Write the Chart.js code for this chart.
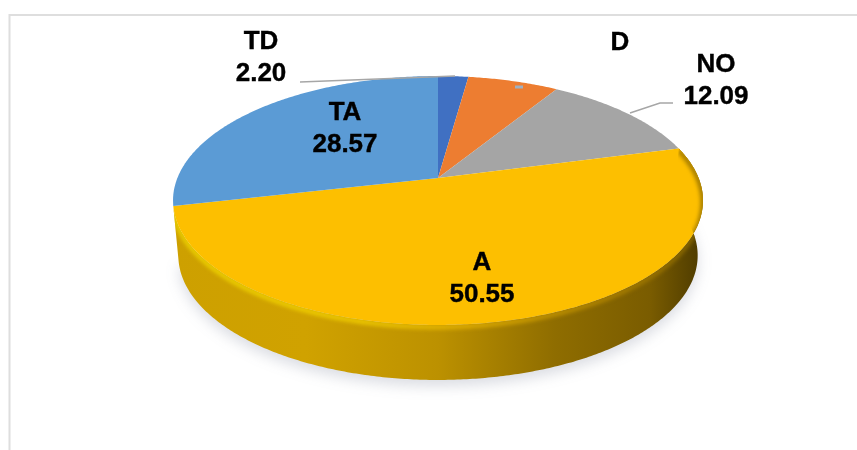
<!DOCTYPE html>
<html><head><meta charset="utf-8">
<style>html,body{margin:0;padding:0;background:#fff}canvas{display:block}</style>
<script src="https://cdn.jsdelivr.net/npm/chart.js@4"></script></head>
<body><canvas id="c" width="857" height="450"></canvas>
<script>
const categories = ['TD','D','NO','A','TA'];
const values = [2.20, 6.59, 12.09, 50.55, 28.57];
const valueLabels = ['2.20', '', '12.09', '50.55', '28.57'];
const colors = ['#4070C2','#ED7D31','#A5A5A5','#FDBF00','#5B9BD5'];

// 3D look of the pie
const view = {cx:438, cy:178, ax:260.6, by:120.4, p:0.1807, depth:55, baseScale:0.98};
const labelSpots = [[261,42],[620,43],[716,65],[482,263],[345,113]];
const lineGap = 31.5;
const leaders = [
  [[300,82],[455,76]],
  [[630,113],[660,103],[673,103]]
];

function project(a, k, dy, sx){
  const u = Math.cos(a)*(k===undefined?1:k), v = Math.sin(a)*(k===undefined?1:k);
  const d = 1 - view.p*v;
  return [view.cx + (sx||1)*view.ax*u/d, view.cy + view.by*v/d + (dy||0)];
}
function arcPath(ctx, s, e, dy, sx, k, move){
  const n = Math.max(2, Math.ceil(Math.abs(e-s)/0.01));
  for(let i=0;i<=n;i++){
    const p = project(s+(e-s)*i/n, k, dy, sx);
    if(i===0 && move) ctx.moveTo(p[0],p[1]); else ctx.lineTo(p[0],p[1]);
  }
}
const pie3d = {
  id:'pie3d',
  beforeDatasetDraw(chart){
    const ctx = chart.ctx, arcs = chart.getDatasetMeta(0).data;
    const front = arcs[3];
    const S = front.startAngle, E = front.endAngle;
    // soft shadow under the disc
    ctx.save();
    ctx.filter='blur(7px)';
    ctx.fillStyle='rgba(70,80,110,0.2)';
    ctx.beginPath();
    arcPath(ctx,S,E,view.depth+6,view.baseScale,1,true);
    ctx.closePath();ctx.fill();
    ctx.restore();
    // rim
    const g = ctx.createLinearGradient(173,0,703,0);
    g.addColorStop(0,'#CDA000');g.addColorStop(0.25,'#D0A200');g.addColorStop(0.5,'#BC9100');
    g.addColorStop(0.72,'#8F6D00');g.addColorStop(0.9,'#7A5C00');g.addColorStop(1,'#4C3A00');
    ctx.save();
    ctx.fillStyle=g;
    ctx.beginPath();
    arcPath(ctx,S,E,0,1,1,true);
    arcPath(ctx,E,S,view.depth,view.baseScale,1,false);
    ctx.closePath();ctx.fill();
    ctx.restore();
    // top surface
    ctx.save();
    ctx.filter='blur(0.6px)';
    arcs.forEach((el,i)=>{
      ctx.fillStyle=colors[i];
      ctx.beginPath();
      ctx.moveTo(view.cx,view.cy);
      arcPath(ctx,el.startAngle,el.endAngle,0,1,1,false);
      ctx.closePath();ctx.fill();
    });
    ctx.restore();
    // bevel on the front edge, kept inside the disc
    ctx.save();
    ctx.beginPath();
    arcPath(ctx,S,E,0,1,1,true);
    arcPath(ctx,E,S,view.depth,view.baseScale,1,false);
    ctx.closePath();ctx.clip();
    ctx.filter='blur(2px)';
    const b = ctx.createLinearGradient(173,0,703,0);
    b.addColorStop(0,'#F0D800');b.addColorStop(0.35,'#F5D200');b.addColorStop(0.55,'#E8B400');
    b.addColorStop(0.8,'#B88A00');b.addColorStop(1,'#8A6800');
    ctx.strokeStyle=b;ctx.lineWidth=4;
    ctx.beginPath();
    arcPath(ctx,S,E,2,1,1,true);
    ctx.stroke();
    ctx.restore();
    return false;
  },
  afterDatasetsDraw(chart){
    const ctx = chart.ctx;
    ctx.save();
    ctx.strokeStyle='#A6A6A6';ctx.lineWidth=1.5;
    leaders.forEach(l=>{
      ctx.beginPath();
      l.forEach((p,i)=> i? ctx.lineTo(p[0],p[1]) : ctx.moveTo(p[0],p[1]));
      ctx.stroke();
    });
    ctx.strokeStyle='#9FB0C0';ctx.lineWidth=3;
    ctx.beginPath();ctx.moveTo(515,87);ctx.lineTo(523,87);ctx.stroke();
    ctx.fillStyle='#000';ctx.strokeStyle='#000';ctx.lineWidth=0.4;
    ctx.font='bold 26px "Liberation Sans"';
    ctx.textAlign='center';ctx.textBaseline='middle';
    categories.forEach((c,i)=>{
      const q = labelSpots[i];
      ctx.fillText(c,q[0],q[1]);ctx.strokeText(c,q[0],q[1]);
      if(valueLabels[i]){
        ctx.fillText(valueLabels[i],q[0],q[1]+lineGap);
        ctx.strokeText(valueLabels[i],q[0],q[1]+lineGap);
      }
    });
    ctx.restore();
  },
  beforeDraw(chart){
    const ctx = chart.ctx;
    ctx.save();
    ctx.fillStyle='#fff';ctx.fillRect(0,0,857,450);
    ctx.strokeStyle='#DEDEDE';ctx.lineWidth=2;
    ctx.beginPath();ctx.moveTo(9.5,450);ctx.lineTo(9.5,15);ctx.lineTo(857,15);ctx.stroke();
    ctx.restore();
  }
};
new Chart(document.getElementById('c'),{
  type:'pie',
  data:{labels:categories,datasets:[{data:values,backgroundColor:colors,borderWidth:0}]},
  options:{responsive:false,animation:false,rotation:0,
    plugins:{legend:{display:false},tooltip:{enabled:false}}},
  plugins:[pie3d]
});
</script></body></html>
